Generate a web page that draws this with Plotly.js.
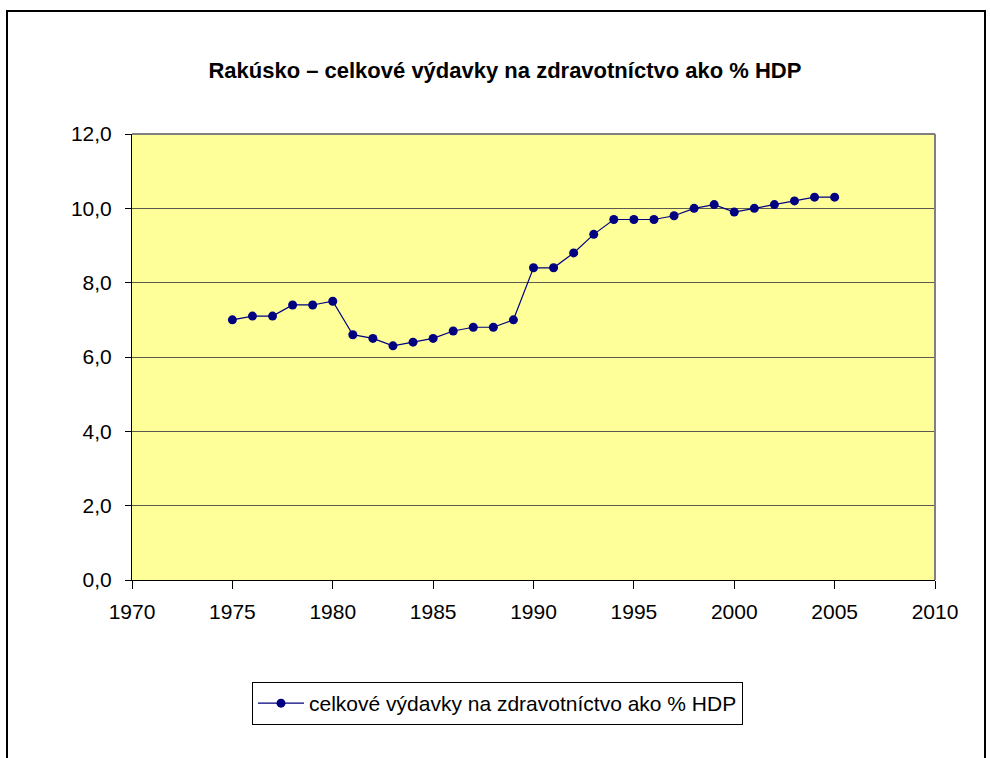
<!DOCTYPE html>
<html>
<head>
<meta charset="utf-8">
<script src="https://cdn.plot.ly/plotly-3.0.1.min.js"></script>
<style>
  html, body { margin: 0; padding: 0; background: #fff; }
  #chart { width: 990px; height: 758px; }
</style>
</head>
<body>
<div id="chart"></div>
<script>
const years = [1975, 1976, 1977, 1978, 1979, 1980, 1981, 1982, 1983, 1984, 1985, 1986, 1987, 1988, 1989,
               1990, 1991, 1992, 1993, 1994, 1995, 1996, 1997, 1998, 1999, 2000, 2001, 2002, 2003, 2004, 2005];
const values = [7.0, 7.1, 7.1, 7.4, 7.4, 7.5, 6.6, 6.5, 6.3, 6.4, 6.5, 6.7, 6.8, 6.8, 7.0,
                8.4, 8.4, 8.8, 9.3, 9.7, 9.7, 9.7, 9.8, 10.0, 10.1, 9.9, 10.0, 10.1, 10.2, 10.3, 10.3];
const seriesName = 'celkové výdavky na zdravotníctvo ako % HDP';
const chartTitle = 'Rakúsko – celkové výdavky na zdravotníctvo ako % HDP';
const xTicks = [1970, 1975, 1980, 1985, 1990, 1995, 2000, 2005, 2010];
const yTicks = [0, 2, 4, 6, 8, 10, 12];

const font = 'Arial, "Liberation Sans", sans-serif';

const trace = {
  x: years, y: values, name: seriesName,
  type: 'scatter', mode: 'lines+markers',
  line: { color: '#000080', width: 1.2 },
  marker: { color: '#000080', size: 9 },
  showlegend: true
};

const layout = {
  width: 990, height: 758,
  margin: { l: 132, r: 55, t: 134, b: 178 },
  paper_bgcolor: '#ffffff',
  plot_bgcolor: '#FFFF99',
  separators: ',.',
  font: { family: font, color: '#000', size: 21 },
  title: {
    text: '<b>' + chartTitle + '</b>',
    font: { family: font, size: 22, color: '#000' },
    xref: 'container', x: 0.51, xanchor: 'center',
    yref: 'container', y: 1 - 70/758, yanchor: 'middle'
  },
  xaxis: {
    range: [1970, 2010], tickvals: xTicks, ticktext: xTicks.map(String),
    showgrid: false, zeroline: false,
    showline: true, linecolor: '#000', linewidth: 1,
    ticks: 'outside', ticklen: 8, tickcolor: '#000', tickwidth: 1,
    ticklabelstandoff: 5,
    tickfont: { family: font, size: 21, color: '#000' }
  },
  yaxis: {
    range: [0, 12], tickvals: yTicks, tickformat: '.1f',
    showgrid: true, gridcolor: '#5a5a50', gridwidth: 1,
    zeroline: false,
    showline: true, linecolor: '#000', linewidth: 1,
    ticks: 'outside', ticklen: 6, tickcolor: '#000', tickwidth: 1,
    ticklabelstandoff: 9,
    tickfont: { family: font, size: 21, color: '#000' }
  },
  legend: {
    x: 252/990, xref: 'container', xanchor: 'left',
    y: 1 - 682/758, yref: 'container', yanchor: 'top',
    orientation: 'h',
    bgcolor: '#ffffff', bordercolor: '#000', borderwidth: 1,
    font: { family: font, size: 21, color: '#000' },
    itemwidth: 46
  },
  shapes: [
    { type: 'line', xref: 'paper', yref: 'paper', x0: 0, x1: 1, y0: 1, y1: 1, line: { color: '#808080', width: 2 } },
    { type: 'line', xref: 'paper', yref: 'paper', x0: 1, x1: 1, y0: 0, y1: 1, line: { color: '#808080', width: 2 } },
    { type: 'rect', xref: 'paper', yref: 'paper',
      x0: (7 - 132)/803, x1: (985 - 132)/803,
      y0: (580 - 770)/446, y1: (580 - 11)/446,
      line: { color: '#000', width: 2 }, fillcolor: 'rgba(0,0,0,0)', layer: 'below' }
  ]
};

Plotly.newPlot('chart', [trace], layout, { displayModeBar: false, staticPlot: true });
</script>
</body>
</html>
